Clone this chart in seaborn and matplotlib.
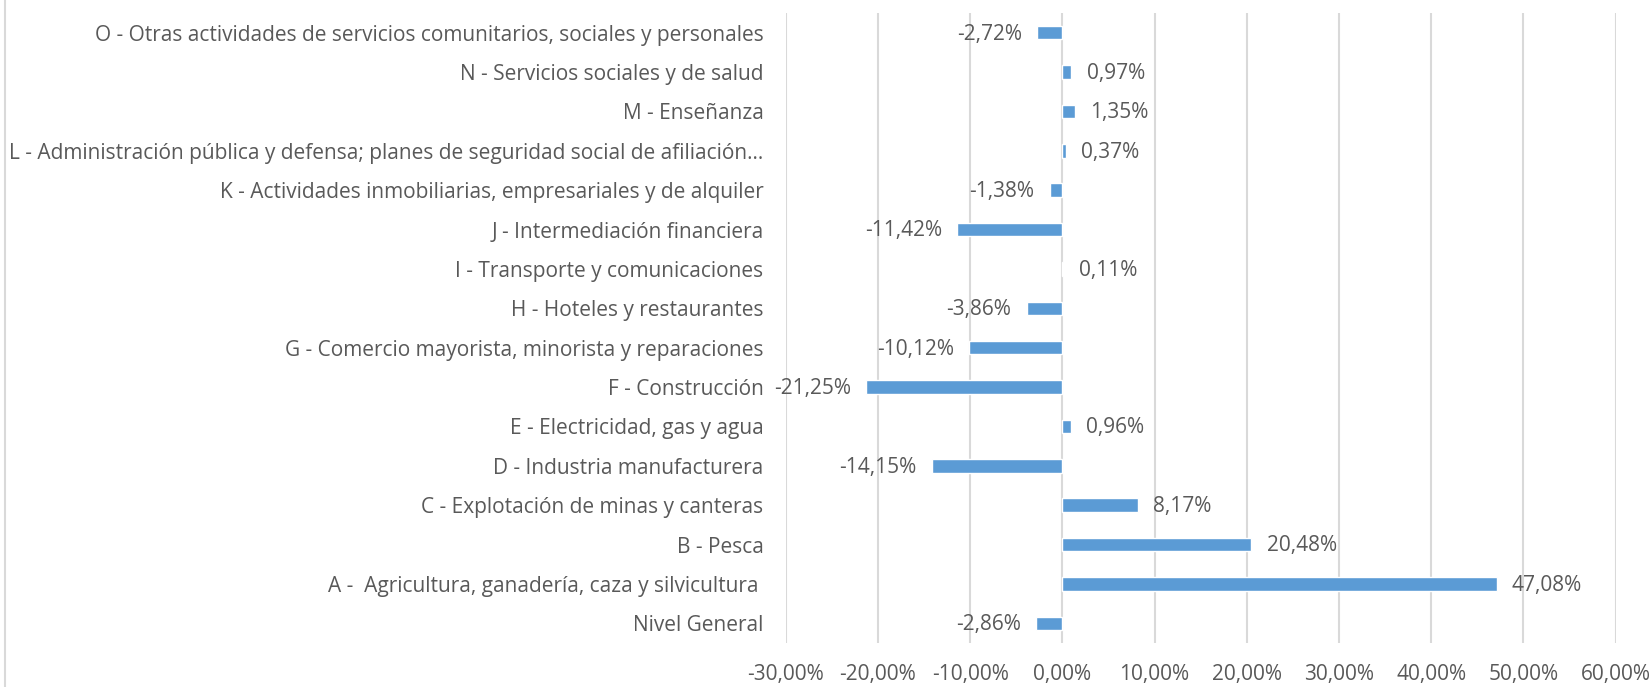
import numpy as np
import pandas as pd
import matplotlib
matplotlib.use("Agg")
import matplotlib.pyplot as plt
import seaborn as sns
from matplotlib.lines import Line2D

sectores = [
    "O - Otras actividades de servicios comunitarios, sociales y personales",
    "N - Servicios sociales y de salud",
    "M - Enseñanza",
    "L - Administración pública y defensa; planes de seguridad social de afiliación…",
    "K - Actividades inmobiliarias, empresariales y de alquiler",
    "J - Intermediación financiera",
    "I - Transporte y comunicaciones",
    "H - Hoteles y restaurantes",
    "G - Comercio mayorista, minorista y reparaciones",
    "F - Construcción",
    "E - Electricidad, gas y agua",
    "D - Industria manufacturera",
    "C - Explotación de minas y canteras",
    "B - Pesca",
    "A -  Agricultura, ganadería, caza y silvicultura ",
    "Nivel General",
]
variacion = [-2.72, 0.97, 1.35, 0.37, -1.38, -11.42, 0.11, -3.86,
             -10.12, -21.25, 0.96, -14.15, 8.17, 20.48, 47.08, -2.86]
ticks_x = [-30, -20, -10, 0, 10, 20, 30, 40, 50, 60]

df = pd.DataFrame({"sector": sectores, "var": variacion})

sns.set_style("white")
plt.rcParams["font.family"] = ["Open Sans", "DejaVu Sans"]
gris = "#595959"
fs = 15

fig = plt.figure(figsize=(16.52, 6.87), dpi=100)
ax = fig.add_axes([785.7 / 1652, 1 - 643 / 687, 830 / 1652, 630 / 687])

sns.barplot(data=df, x="var", y="sector", orient="h", color="#5B9BD5",
            saturation=1, width=0.34, ax=ax, zorder=3)

ax.set_xlim(-30, 60)
ax.set_ylim(15.5, -0.5)
ax.set_xticks(ticks_x)
ax.set_xticklabels([f"{t:.2f}%".replace(".", ",") for t in ticks_x])
ax.grid(axis="x", color="#D9D9D9", lw=1.5, zorder=0)
ax.grid(axis="y", visible=False)
for s in ax.spines.values():
    s.set_visible(False)
ax.tick_params(axis="x", length=0, pad=15, labelsize=fs, labelcolor=gris)
ax.tick_params(axis="y", length=0, pad=16, labelsize=fs, labelcolor=gris)
ax.set_xlabel("")
ax.set_ylabel("")

for i, v in enumerate(variacion):
    txt = f"{v:.2f}%".replace(".", ",")
    if v >= 0:
        ax.annotate(txt, (v, i), xytext=(11, -1), textcoords="offset points",
                    ha="left", va="center", fontsize=fs, color=gris)
    else:
        ax.annotate(txt, (v, i), xytext=(-11, -1), textcoords="offset points",
                    ha="right", va="center", fontsize=fs, color=gris)

fig.add_artist(Line2D([4.5 / 1652, 4.5 / 1652], [0, 1], color="#D9D9D9", lw=1.5))

fig.savefig("out.png", dpi=100)
